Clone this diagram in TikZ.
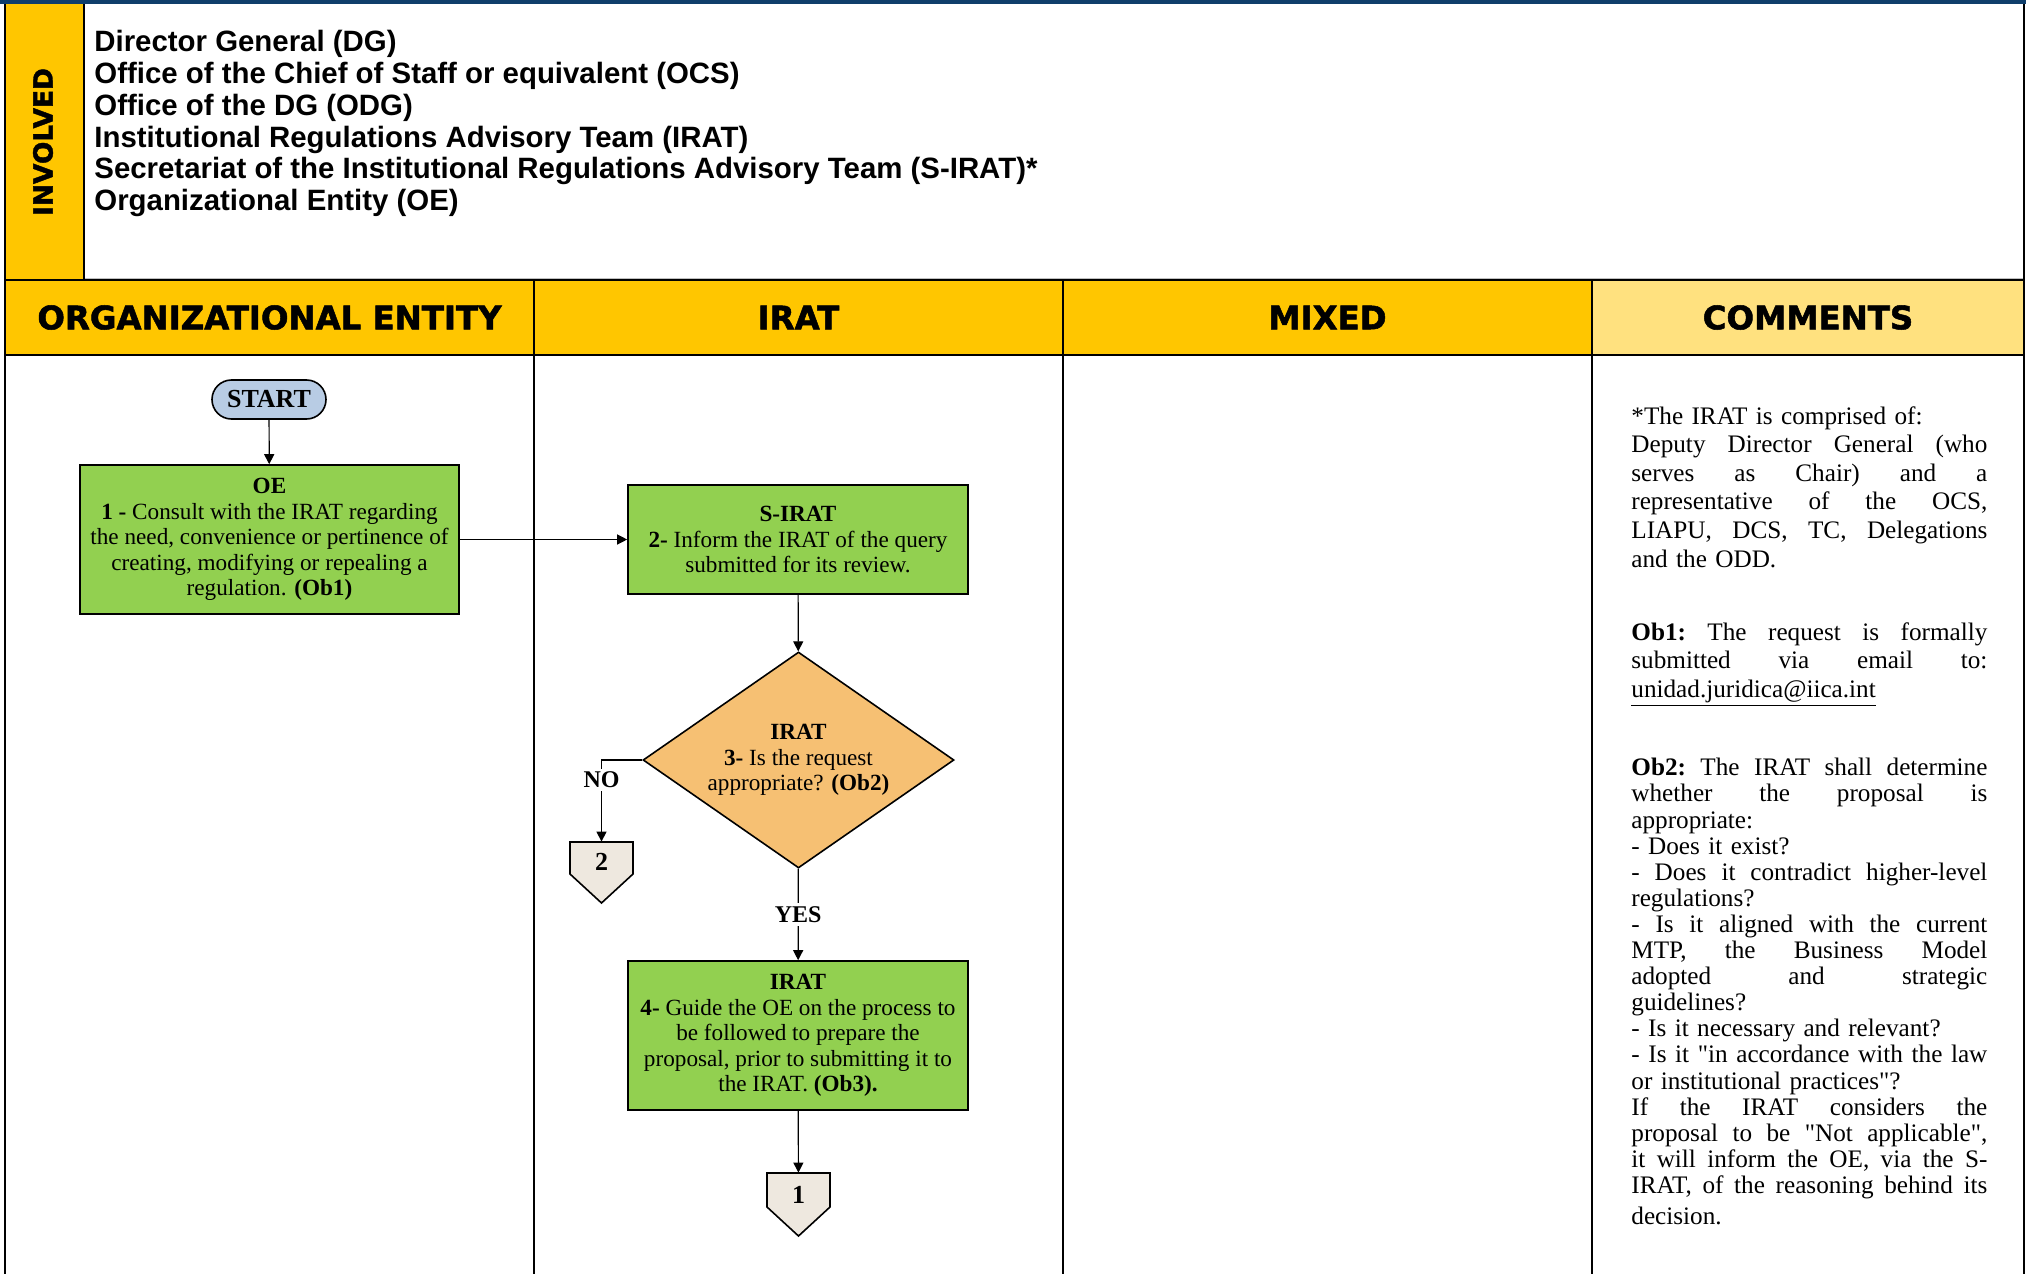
\documentclass[tikz,border=0pt]{standalone}
\usepackage{fontspec}
\setmainfont{Liberation Serif}
\newfontfamily\listfont{Liberation Sans}
\newfontfamily\headfont{DejaVu Sans}[BoldFeatures={FakeBold=1.6}]
\usetikzlibrary{shapes.geometric,arrows.meta}

\definecolor{gold}{HTML}{FFC600}
\definecolor{paleyellow}{HTML}{FFE17F}
\definecolor{navy}{HTML}{0F3E6B}
\definecolor{stepgreen}{HTML}{92D050}
\definecolor{askorange}{HTML}{F6C073}
\definecolor{startblue}{HTML}{B8CCE4}
\definecolor{connbeige}{HTML}{EEE8DF}

\newcommand{\jl}[1]{{\frenchspacing\spaceskip=0pt \xspaceskip=0pt \makebox[178pt][s]{#1}}}
\newcommand{\dq}{\XeTeXglyph\XeTeXcharglyph"22\relax}

\begin{document}
\begin{tikzpicture}[x=0.5pt, y=-0.5pt,
    header/.style={draw=black, line width=0.75pt, fill=gold, inner sep=0pt, outer sep=0pt,
        minimum width=264.5pt, minimum height=37.5pt,
        font=\headfont\bfseries\fontsize{16.2}{18}\selectfont},
    stepbox/.style={rectangle, draw=black, line width=0.8pt, fill=stepgreen, inner sep=2pt,
        align=center, minimum width=170pt, minimum height=54.5pt,
        font=\fontsize{11.6}{12.8}\selectfont},
    decision/.style={diamond, draw=black, line width=0.8pt, fill=askorange, aspect=1.44,
        inner sep=0pt, minimum width=155.5pt, minimum height=108pt, align=center,
        font=\fontsize{11.6}{12.8}\selectfont},
    terminal/.style={rectangle, rounded corners=9.75pt, draw=black, line width=0.8pt,
        fill=startblue, minimum width=57pt, minimum height=19.5pt, inner sep=0pt,
        font=\bfseries\fontsize{13}{15}\selectfont},
    offshape/.style={draw=black, line width=0.8pt, fill=connbeige, line join=miter},
    offpage/.style={inner sep=0pt, minimum width=31.5pt, minimum height=20pt,
        font=\bfseries\fontsize{13}{15}\selectfont},
    flow/.style={line width=0.6pt, -{Triangle[length=5pt,width=5pt]}},
    answer/.style={fill=white, inner sep=1.5pt, font=\bfseries\fontsize{12}{14}\selectfont},
    comment/.style={inner sep=0pt, text width=178pt, align=left},
    lane/.style={line width=1pt}
]
    \useasboundingbox (0,0) rectangle (2026,1274);

    \fill[navy] (0,0) rectangle (2026,4);
    \fill[gold] (5,4) rectangle (84,280);
    \draw[gray!50, line width=0.6pt] (84,279) -- (2024,279);
    \draw[lane] (84,4) -- (84,280);
    \draw[line width=0.8pt] (2024,4) -- (2024,280);
    \draw[lane] (5,4) -- (5,355);
    \foreach \x in {5,534,1063,1592,2024}
        \draw[lane] (\x,355) -- (\x,1274);

    \node[rotate=90, font=\headfont\bfseries\fontsize{13.2}{15}\selectfont] (involved) at (43,142) {INVOLVED};
    \node[anchor=north west, inner sep=0pt, align=left,
        font=\listfont\bfseries\fontsize{14.7}{15.9}\selectfont] (roles) at (94,30) {Director General (DG)\\
        Office of the Chief of Staff or equivalent (OCS)\\
        Office of the DG (ODG)\\
        Institutional Regulations Advisory Team (IRAT)\\
        Secretariat of the Institutional Regulations Advisory Team (S-IRAT)*\\
        Organizational Entity (OE)};

    \node[header] (hdoe) at (269.5,317.5) {ORGANIZATIONAL ENTITY};
    \node[header] (hdirat) at (798.5,317.5) {IRAT};
    \node[header] (hdmixed) at (1327.5,317.5) {MIXED};
    \node[header, fill=paleyellow, minimum width=216pt] (hdcomments) at (1808,317.5) {COMMENTS};

    \node[terminal] (start) at (269,399.5) {START};
    \node[stepbox, minimum width=189.5pt, minimum height=74.5pt] (oe) at (269.5,539.5) {\textbf{OE}\\
        \textbf{1 -} Consult with the IRAT regarding\\
        the need, convenience or pertinence of\\
        creating, modifying or repealing a\\
        regulation. \textbf{(Ob1)}};
    \node[stepbox] (sirat) at (798,539.5) {\textbf{S-IRAT}\\
        \textbf{2-} Inform the IRAT of the query\\
        submitted for its review.};
    \node[decision] (request) at (798.5,760) {\textbf{IRAT}\\
        \textbf{3-} Is the request\\
        appropriate? \textbf{(Ob2)}};
    \node[stepbox, minimum height=74.5pt] (guide) at (798,1035.5) {\textbf{IRAT}\\
        \textbf{4-} Guide the OE on the process to\\
        be followed to prepare the\\
        proposal, prior to submitting it to\\
        the IRAT. \textbf{(Ob3).}};

    \filldraw[offshape] (570,842) -- (633,842) -- (633,874) -- (601.5,903) -- (570,874) -- cycle;
    \node[offpage] (conn2) at (601.5,862) {2};
    \filldraw[offshape] (767,1173) -- (830,1173) -- (830,1207) -- (798.5,1236) -- (767,1207) -- cycle;
    \node[offpage, minimum height=22pt] (conn1) at (798.5,1195) {1};

    \draw[flow] (start) -- (oe);
    \draw[flow] (oe) -- (sirat);
    \draw[flow] (sirat) -- (request);
    \draw[flow] (request.west) -| node[answer, pos=0.62] {NO} (conn2);
    \draw[flow] (request) -- node[answer] {YES} (guide);
    \draw[flow] (guide) -- (conn1);

    \node[comment, anchor=north west, font=\fontsize{12.6}{14.3}\selectfont] (cmtirat) at (1631,406) {*The IRAT is comprised of:\\
        \jl{Deputy Director General (who}\\
        \jl{serves as Chair) and a}\\
        \jl{representative of the OCS,}\\
        \jl{LIAPU, DCS, TC, Delegations}\\
        and the ODD.};
    \node[comment, anchor=north west, font=\fontsize{12.6}{14.3}\selectfont] (cmtob1) at (1631,622) {\jl{\textbf{Ob1:} The request is formally}\\
        \jl{submitted via email to:}\\
        \underline{unidad.juridica@iica.int}};
    \node[comment, anchor=north west, font=\fontsize{12.6}{13.05}\selectfont] (cmtob2) at (1631,758) {\jl{\textbf{Ob2:} The IRAT shall determine}\\
        \jl{whether the proposal is}\\
        appropriate:\\
        - Does it exist?\\
        \jl{- Does it contradict higher-level}\\
        regulations?\\
        \jl{- Is it aligned with the current}\\
        \jl{MTP, the Business Model}\\
        \jl{adopted and strategic}\\
        guidelines?\\
        - Is it necessary and relevant?\\
        \jl{- Is it \dq in accordance with the law}\\
        or institutional practices\dq?\\
        \jl{If the IRAT considers the}\\
        \jl{proposal to be \dq Not applicable\dq,}\\
        \jl{it will inform the OE, via the S-}\\
        \jl{IRAT, of the reasoning behind its}\\[2.5pt]
        decision.};
\end{tikzpicture}
\end{document}
